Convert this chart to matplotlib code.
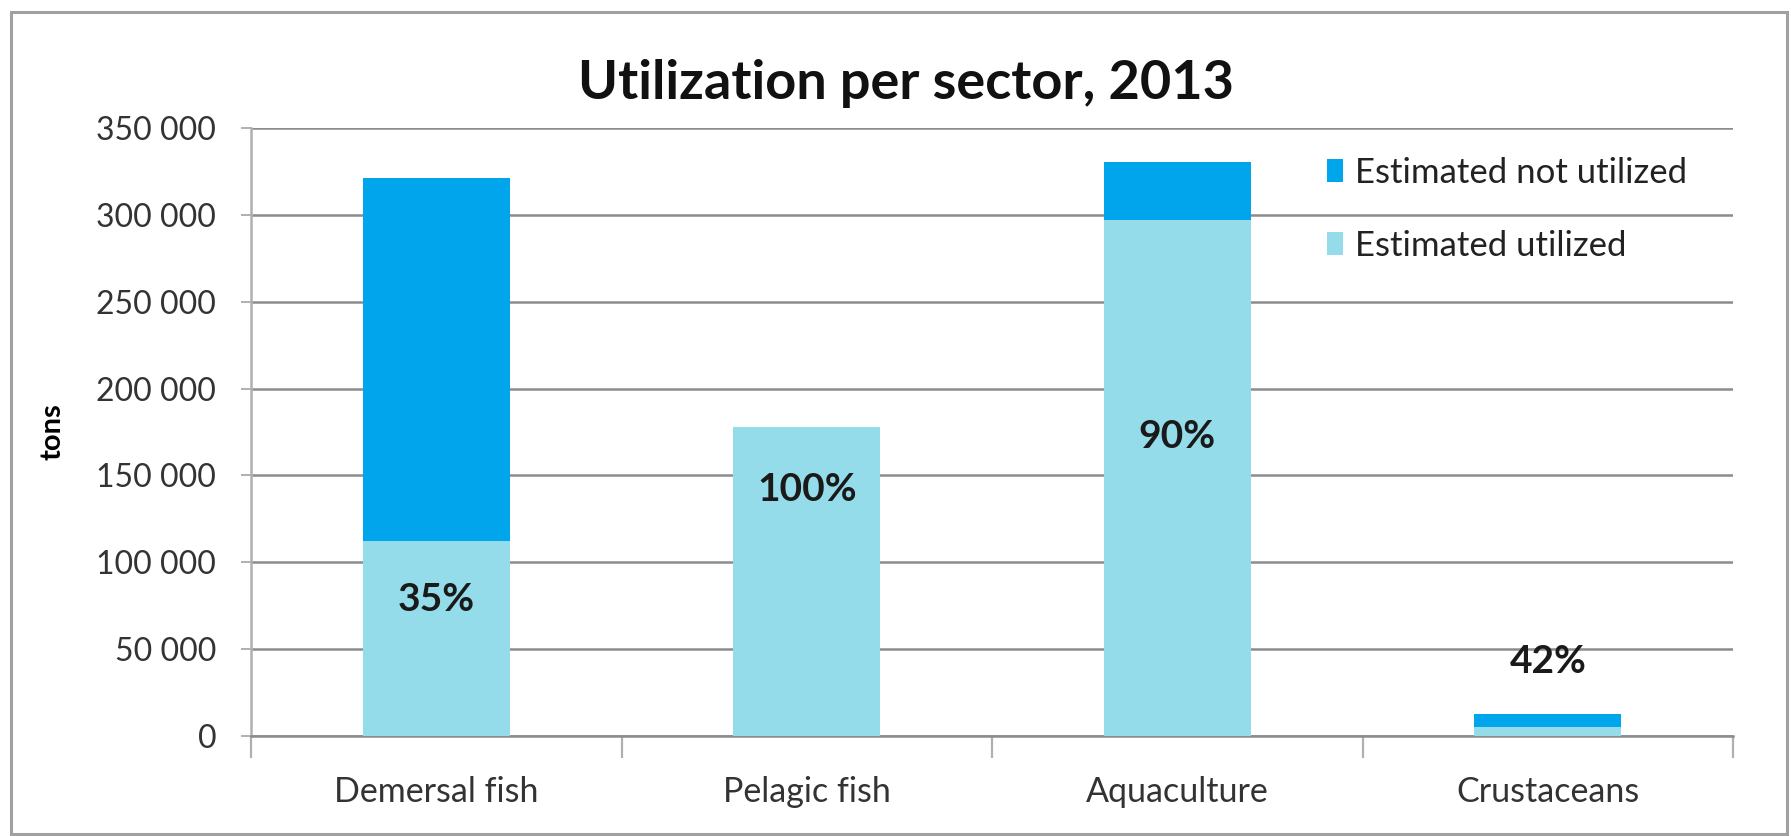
import matplotlib
matplotlib.use("Agg")
import matplotlib.pyplot as plt
from matplotlib.patches import Rectangle
from matplotlib.ticker import FuncFormatter, MultipleLocator

categories = ["Demersal fish", "Pelagic fish", "Aquaculture", "Crustaceans"]
utilized = [112000, 178000, 297000, 5300]
not_utilized = [209000, 0, 33500, 7400]
pct_labels = ["35%", "100%", "90%", "42%"]
pct_label_y = [78500, 142000, 172500, 43000]
series_names = ["Estimated not utilized", "Estimated utilized"]

plt.rcParams['font.family'] = ['Lato', 'DejaVu Sans']

W, H = 1791, 836
L, R, T, B = 251, 1733, 128, 736
fig = plt.figure(figsize=(W / 100, H / 100), dpi=100)
ax = fig.add_axes([L / W, 1 - B / H, (R - L) / W, (B - T) / H])

c_dark = "#00A5EC"
c_light = "#94DCEA"
x = list(range(len(categories)))
bw = 0.397
b1 = ax.bar(x, utilized, width=bw, color=c_light, label=series_names[1], zorder=3)
b2 = ax.bar(x, not_utilized, width=bw, bottom=utilized, color=c_dark, label=series_names[0], zorder=3)

for xi, lab, yy in zip(x, pct_labels, pct_label_y):
    ax.text(xi, yy, lab, ha="center", va="center", fontsize=28, fontweight="bold", color="#1a1a1a", zorder=4)

ax.set_xlim(-0.5, len(categories) - 0.5)
ax.set_ylim(0, 350000)
ax.yaxis.set_major_locator(MultipleLocator(50000))
ax.yaxis.set_major_formatter(FuncFormatter(lambda v, p: f"{int(v):,}".replace(",", " ")))
ax.grid(axis="y", color="#8c8c8c", linewidth=1.8, zorder=0)
ax.set_axisbelow(True)

for s in ["top", "right"]:
    ax.spines[s].set_visible(False)
ax.spines["left"].set_color("#b0b0b0")
ax.spines["left"].set_linewidth(1.8)
ax.spines["bottom"].set_color("#8c8c8c")
ax.spines["bottom"].set_linewidth(1.8)

ax.set_xticks(x)
ax.set_xticklabels(categories, fontsize=24.5, color="#333333")
ax.set_xticks([i - 0.5 for i in range(len(categories) + 1)], minor=True)
ax.tick_params(axis="x", which="major", length=0, pad=29)
ax.tick_params(axis="x", which="minor", length=16, width=1.6, color="#b0b0b0", direction="out")
ax.tick_params(axis="y", length=7, width=1.4, color="#b0b0b0", labelsize=23, labelcolor="#333333", pad=18)

ax.set_ylabel("tons", fontsize=21, fontweight="bold", labelpad=22)

fig.suptitle("Utilization per sector, 2013", x=906 / W, y=1 - 84 / H, va="center",
             fontsize=39, fontweight="bold", color="#111111")

handles = [b2, b1]
leg = ax.legend(handles, series_names, loc="upper left",
                bbox_to_anchor=((1327 - L) / (R - L), 1 - (157 - T) / (B - T)),
                frameon=False, fontsize=25, handlelength=0.45, handleheight=0.65, handletextpad=0.35,
                labelspacing=1.18, borderaxespad=0, borderpad=0)
for t in leg.get_texts():
    t.set_color("#222222")

fig.patches.append(Rectangle((11 / W, 2 / H), (1787 - 11) / W, (824 - 2) / H, transform=fig.transFigure,
                             fill=False, edgecolor="#a0a0a0", linewidth=2.2))

fig.savefig("out.png", dpi=100)
